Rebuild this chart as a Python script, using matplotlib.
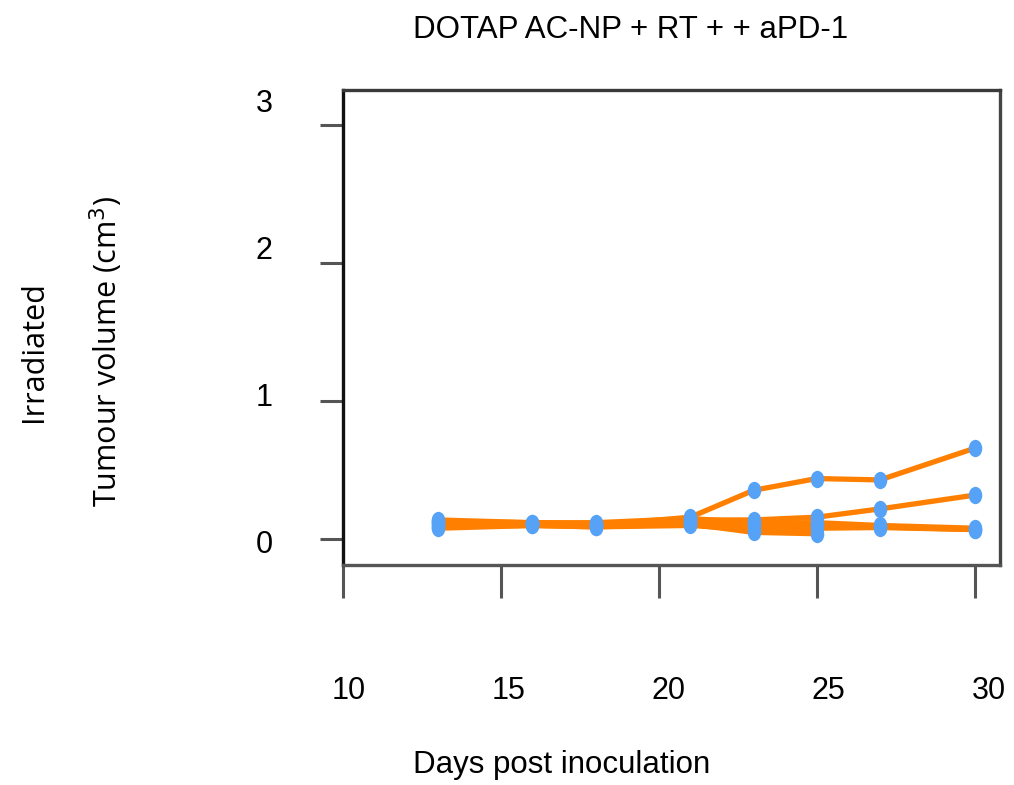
import numpy as np
import matplotlib.pyplot as plt
from matplotlib.path import Path
from matplotlib.transforms import Affine2D

#Data
days = [13, 16, 18, 21, 23, 25, 27, 30]
mouse_1 = [0.11, 0.11, 0.10, 0.16, 0.355, 0.44, 0.43, 0.66]
mouse_2 = [0.12, 0.11, 0.10, 0.14, 0.14, 0.16, 0.22, 0.32]
mouse_3 = [0.09, 0.10, 0.09, 0.10, 0.07, 0.08, 0.085, 0.07]
mouse_4 = [0.13, 0.12, 0.11, 0.12, 0.10, 0.10, 0.09, 0.07]
mouse_5 = [0.08, 0.10, 0.09, 0.11, 0.05, 0.04, np.nan, np.nan]
mouse_6 = [0.14, 0.12, 0.12, 0.15, 0.12, 0.12, 0.10, 0.08]
mice = [mouse_1, mouse_2, mouse_3, mouse_4, mouse_5, mouse_6]

x_ticks = [10, 15, 20, 25, 30]
y_ticks = [0, 1, 2, 3]

title = "DOTAP AC-NP + RT + + aPD-1"
x_label = "Days post inoculation"
y_label = "Irradiated\nTumour volume (cm$^3$)"

plt.rcParams['font.family'] = ['Liberation Sans', 'DejaVu Sans']

fig = plt.figure(figsize=(10.14, 7.85), dpi=100)
ax = fig.add_axes([0.338, 0.280, 0.648, 0.605])

#tall ellipse marker
ellipse = Path.unit_circle().transformed(Affine2D().scale(0.78, 1.0))

for m in mice:
    ax.plot(days, m, color='#ff8000', lw=3.8, solid_capstyle='butt', zorder=2)
for m in mice:
    ax.plot(days, m, ls='none', marker=ellipse, ms=12.5, color='#55a2f7',
            mec='none', zorder=3)

ax.set_xlim(10, 30.79)
ax.set_ylim(-0.188, 3.254)

ax.set_xticks(x_ticks)
ax.set_yticks(y_ticks)
ax.tick_params(axis='x', direction='out', length=24, width=2.2, color='#555555',
               labelbottom=False)
ax.tick_params(axis='y', direction='out', length=16.5, width=2.2, color='#555555',
               labelleft=False)

ax.spines['left'].set_color('#111111')
ax.spines['top'].set_color('#3a3a3a')
ax.spines['right'].set_color('#444444')
ax.spines['bottom'].set_color('#555555')
for s in ax.spines.values():
    s.set_linewidth(2.4)

#tick labels sit on a slightly different scale than the ticks in the reference
sec_x = ax.secondary_xaxis('bottom',
                           functions=(lambda d: 10 + (31.6 * (d - 10) - 6) / 32.0,
                                      lambda v: 10 + (6 + 32.0 * (v - 10)) / 31.6))
sec_x.set_xticks(x_ticks)
sec_x.tick_params(length=0, pad=80, labelsize=22)
sec_x.spines['bottom'].set_visible(False)

sec_y = ax.secondary_yaxis('left',
                           functions=(lambda y: (138 * y + 2) / 147.0,
                                      lambda v: (147 * v - 2) / 138.0))
sec_y.set_yticks(y_ticks)
sec_y.tick_params(length=0, pad=56.5, labelsize=22)
for lab in sec_y.get_yticklabels():
    lab.set_horizontalalignment('center')
sec_y.spines['left'].set_visible(False)

fig.text(0.622, 0.962, title, ha='center', va='center', fontsize=22.5)
fig.text(0.554, 0.025, x_label, ha='center', va='center', fontsize=22.5)
fig.text(0.071, 0.552, y_label, ha='center', va='center', rotation=90,
         fontsize=22, family=['Open Sans', 'DejaVu Sans'],
         linespacing=2.3)

fig.savefig('out.png', dpi=100)
